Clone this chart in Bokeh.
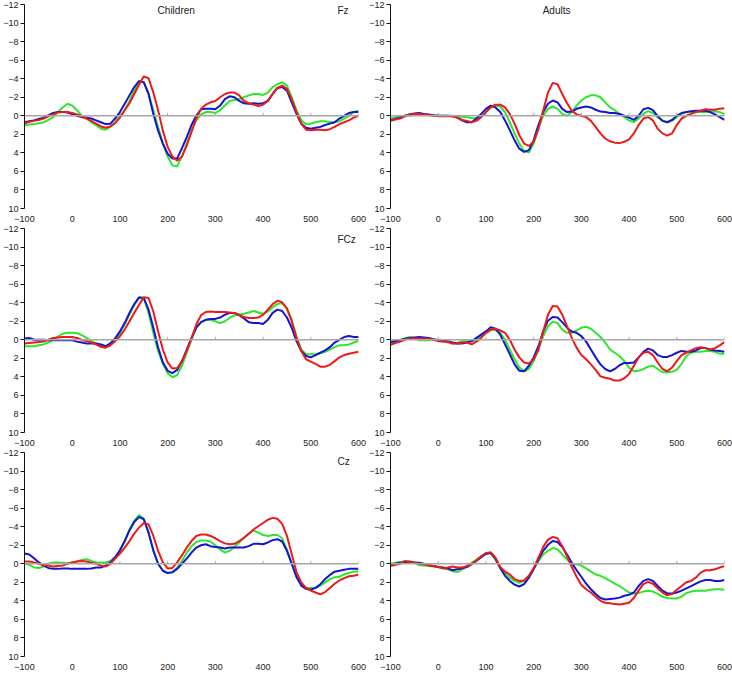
import math
from bokeh.plotting import figure
from bokeh.layouts import gridplot
from bokeh.models import Range1d, FixedTicker, LinearAxis, Label, Span
from bokeh.embed import file_html
from bokeh.resources import INLINE

# ---------------- data ----------------
time_ms = list(range(-100, 601, 10))
x_ticks = [-100, 0, 100, 200, 300, 400, 500, 600]
y_ticks = [-12, -10, -8, -6, -4, -2, 0, 2, 4, 6, 8, 10]

children_fz_green = [1.0, 0.95, 0.9, 0.8, 0.7, 0.45, 0.15, -0.4, -0.9, -1.3, -1.1, -0.6, 0, 0.3, 0.7, 1.0, 1.4, 1.5, 1.2, 0.7,
                     0.1, -0.6, -1.6, -2.7, -3.65, -3.65, -2.4, -0.6, 1.2, 3.0, 4.4, 5.35, 5.45, 4.4, 3.0, 1.6, 0.5, -0.15, -0.4, -0.4,
                     -0.3, -0.6, -1.1, -1.6, -1.7, -1.8, -2.0, -2.2, -2.35, -2.35, -2.25, -2.5, -3.1, -3.4, -3.6, -3.25, -2.0, -0.6, 0.5, 0.9,
                     0.85, 0.7, 0.6, 0.6, 0.7, 0.7, 0.6, 0.3, 0, -0.4, -0.55]
children_fz_blue = [0.7, 0.6, 0.5, 0.35, 0.2, -0.05, -0.3, -0.4, -0.4, -0.35, -0.2, 0, 0.15, 0.2, 0.3, 0.5, 0.7, 0.9, 0.85, 0.3,
                    -0.4, -1.3, -2.2, -3.1, -3.75, -3.6, -2.35, -0.2, 1.6, 3.0, 4.1, 4.6, 4.6, 3.5, 2.3, 1.0, 0, -0.7, -0.75, -0.75,
                    -0.7, -1.1, -1.8, -2.1, -2.0, -1.6, -1.35, -1.3, -1.35, -1.3, -1.35, -1.6, -2.35, -3.0, -3.1, -2.7, -1.45, -0.2, 0.85, 1.3,
                    1.4, 1.3, 1.2, 1.0, 0.85, 0.7, 0.3, 0, -0.3, -0.4, -0.4]
children_fz_red = [0.8, 0.65, 0.55, 0.45, 0.3, 0.05, -0.15, -0.35, -0.4, -0.4, -0.3, -0.15, 0.05, 0.3, 0.55, 0.85, 1.15, 1.3, 1.15, 0.8,
                   0.2, -0.6, -1.35, -2.35, -3.35, -4.25, -4.05, -2.5, -0.6, 1.6, 3.35, 4.4, 4.85, 4.4, 3.2, 1.75, 0.3, -0.75, -1.2, -1.45,
                   -1.6, -2.0, -2.35, -2.5, -2.5, -2.2, -1.6, -1.35, -1.2, -1.05, -1.2, -1.6, -2.35, -3.0, -3.25, -2.9, -1.8, -0.4, 0.85, 1.5,
                   1.55, 1.5, 1.5, 1.55, 1.45, 1.2, 0.9, 0.7, 0.5, 0.2, 0]

adults_fz_green = [0.3, 0.15, 0.05, 0, 0, -0.1, -0.15, -0.1, -0.05, 0, 0, 0, 0, 0, 0.05, 0.1, 0.15, 0.25, 0.3, 0.15,
                   -0.4, -0.9, -1.1, -1.0, -0.4, 0.7, 1.9, 3.0, 3.8, 3.95, 3.0, 1.4, 0, -0.75, -1.0, -0.75, -0.2, 0, -0.4, -1.1,
                   -1.65, -2.0, -2.2, -2.2, -2.0, -1.45, -0.9, -0.6, -0.2, 0.15, 0.5, 0.7, 0.3, -0.2, -0.5, -0.3, 0.15, 0.5, 0.7, 0.55,
                   0.15, -0.2, -0.4, -0.4, -0.4, -0.4, -0.4, -0.45, -0.45, -0.4, -0.2]
adults_fz_blue = [0.5, 0.35, 0.2, 0, -0.15, -0.25, -0.3, -0.2, -0.15, -0.05, 0, 0, 0, 0.05, 0.2, 0.5, 0.7, 0.7, 0.3, -0.2,
                  -0.75, -1.1, -0.9, -0.4, 0.5, 1.55, 2.65, 3.55, 3.9, 3.7, 2.65, 1.0, -0.4, -1.3, -1.65, -1.45, -0.75, -0.4, -0.45, -0.75,
                  -0.9, -1.0, -0.9, -0.65, -0.45, -0.4, -0.3, -0.3, -0.2, 0, 0.2, 0.45, 0, -0.7, -0.85, -0.6, 0.05, 0.55, 0.7, 0.45,
                  0, -0.3, -0.4, -0.5, -0.55, -0.55, -0.55, -0.4, -0.15, 0.15, 0.45]
adults_fz_red = [0.55, 0.4, 0.3, 0.05, -0.15, -0.2, -0.2, -0.15, -0.1, 0, 0.05, 0.05, 0.05, 0.05, 0.2, 0.45, 0.55, 0.7, 0.55, 0.15,
                 -0.4, -0.9, -1.2, -1.2, -0.9, -0.2, 0.85, 2.1, 3.0, 3.25, 2.8, 1.4, -0.55, -2.5, -3.55, -3.4, -2.35, -1.35, -0.55, -0.15,
                 0, 0.15, 0.55, 1.2, 1.9, 2.45, 2.75, 2.9, 2.95, 2.8, 2.55, 1.9, 1.0, 0.3, 0.15, 0.5, 1.4, 1.9, 2.15, 1.9,
                 1.0, 0.3, 0, -0.2, -0.4, -0.55, -0.7, -0.65, -0.65, -0.75, -0.8]

children_fcz_green = [0.7, 0.7, 0.7, 0.6, 0.5, 0.3, 0, -0.35, -0.65, -0.75, -0.75, -0.7, -0.5, -0.2, 0.15, 0.4, 0.55, 0.7, 0.4, 0,
                      -0.75, -1.7, -2.7, -3.75, -4.6, -4.5, -2.9, -0.75, 1.2, 2.6, 3.6, 4.05, 3.8, 2.8, 1.4, 0, -1.3, -1.9, -2.15, -2.15,
                      -2.0, -1.8, -2.0, -2.35, -2.65, -2.7, -2.8, -2.95, -3.1, -2.95, -2.8, -3.05, -3.5, -3.85, -3.95, -3.4, -2.15, -0.4, 1.05, 1.55,
                      1.55, 1.55, 1.45, 1.3, 1.05, 0.8, 0.6, 0.6, 0.5, 0.3, 0.1]
children_fcz_blue = [-0.15, -0.2, 0, 0, 0, 0.05, 0.05, 0.05, 0.05, 0.05, 0.05, 0.2, 0.3, 0.4, 0.4, 0.4, 0.5, 0.7, 0.4, -0.15,
                     -0.9, -1.8, -2.9, -3.85, -4.55, -4.5, -3.25, -1.3, 0.85, 2.45, 3.35, 3.6, 3.25, 2.3, 1.05, -0.2, -1.3, -1.9, -2.15, -2.25,
                     -2.25, -2.4, -2.7, -2.9, -2.9, -2.65, -2.3, -1.9, -1.8, -1.8, -1.7, -2.15, -2.9, -3.25, -3.1, -2.4, -1.3, 0.15, 1.2, 1.75,
                     1.9, 1.65, 1.4, 1.15, 0.8, 0.3, 0, -0.3, -0.4, -0.3, -0.3]
children_fcz_red = [0.4, 0.35, 0.3, 0.25, 0.2, 0, -0.2, -0.25, -0.3, -0.3, -0.3, -0.2, 0, 0.15, 0.3, 0.5, 0.75, 0.85, 0.6, 0.15,
                    -0.4, -1.1, -2.0, -2.9, -3.75, -4.6, -4.5, -3.05, -0.9, 1.05, 2.45, 3.1, 3.05, 2.35, 1.2, -0.15, -1.65, -2.65, -3.0, -3.05,
                    -3.0, -3.0, -3.0, -2.95, -2.9, -2.7, -2.45, -2.35, -2.35, -2.4, -2.7, -3.25, -3.85, -4.2, -4.05, -3.35, -2.0, -0.2, 1.2, 2.1,
                    2.35, 2.6, 2.9, 2.9, 2.7, 2.3, 1.9, 1.65, 1.5, 1.4, 1.3]

adults_fcz_green = [0.05, 0.05, 0, -0.15, -0.3, -0.2, 0.05, 0.05, 0.05, 0, 0, 0.05, 0.3, 0.4, 0.35, 0.15, 0.15, 0.2, 0, -0.4,
                    -0.75, -1.05, -1.05, -0.75, 0, 1.05, 2.1, 3.0, 3.4, 3.15, 2.3, 1.05, -0.4, -1.45, -1.95, -1.8, -1.1, -0.75, -0.75, -1.0,
                    -1.3, -1.4, -1.2, -0.75, -0.3, 0.3, 1.05, 1.4, 1.75, 2.3, 3.0, 3.4, 3.35, 3.15, 2.9, 2.8, 3.15, 3.5, 3.5, 3.45,
                    3.25, 2.6, 1.75, 1.4, 1.3, 1.3, 1.2, 1.2, 1.3, 1.5, 1.5]
adults_fcz_blue = [0.3, 0.15, 0.05, -0.1, -0.2, -0.25, -0.3, -0.25, -0.2, -0.05, 0.05, 0.1, 0.15, 0.3, 0.4, 0.4, 0.3, 0.15, -0.2, -0.55,
                   -0.9, -1.35, -1.2, -0.55, 0.5, 1.55, 2.65, 3.35, 3.4, 2.8, 1.9, 0.7, -0.9, -2.05, -2.45, -2.4, -1.9, -1.3, -0.9, -0.75,
                   -0.4, 0.2, 1.05, 1.9, 2.65, 3.15, 3.4, 3.15, 2.75, 2.5, 2.5, 2.45, 1.9, 1.3, 0.95, 1.15, 1.65, 1.85, 1.85, 1.65,
                   1.4, 1.2, 1.3, 1.3, 1.15, 0.9, 0.9, 1.05, 1.15, 1.2, 1.3]
adults_fcz_red = [0.55, 0.35, 0.2, 0, -0.15, -0.15, -0.15, -0.1, -0.1, 0, 0.15, 0.2, 0.2, 0.4, 0.4, 0.3, 0.3, 0.5, 0.2, -0.2,
                  -0.75, -1.1, -1.2, -1.0, -0.75, 0, 1.05, 1.9, 2.45, 2.55, 2.1, 1.05, -0.9, -2.7, -3.65, -3.6, -2.7, -1.45, -0.2, 0.85,
                  1.65, 2.1, 2.65, 3.25, 3.95, 4.1, 4.2, 4.4, 4.4, 4.15, 3.7, 2.8, 1.9, 1.4, 1.3, 1.65, 2.45, 3.15, 3.4, 3.0,
                  2.3, 1.65, 1.4, 1.15, 0.9, 0.8, 0.9, 1.05, 0.9, 0.6, 0.25]

children_cz_green = [0, 0.1, 0.4, 0.45, 0.3, 0, -0.15, -0.15, -0.1, -0.05, -0.1, -0.25, -0.4, -0.5, -0.3, -0.15, -0.15, -0.15, -0.3, -0.7,
                     -1.4, -2.45, -3.7, -4.65, -5.25, -4.85, -3.35, -1.4, 0, 0.75, 1.0, 0.95, 0.4, -0.3, -1.2, -1.9, -2.35, -2.5, -2.5, -2.4,
                     -2.0, -1.55, -1.2, -1.4, -1.8, -2.3, -2.8, -3.25, -3.6, -3.35, -3.1, -3.0, -3.1, -3.1, -2.75, -1.55, 0, 1.45, 2.25, 2.6,
                     2.6, 2.6, 2.35, 2.0, 1.65, 1.45, 1.4, 1.15, 1.0, 0.85, 0.8]
children_cz_blue = [-1.1, -1.0, -0.6, -0.15, 0.2, 0.45, 0.55, 0.55, 0.5, 0.5, 0.55, 0.55, 0.55, 0.55, 0.5, 0.4, 0.4, 0.2, -0.15, -0.7,
                    -1.45, -2.45, -3.6, -4.5, -5.05, -4.8, -3.35, -1.45, 0, 0.75, 1.0, 0.9, 0.55, 0, -0.55, -1.2, -1.75, -2.0, -2.1, -1.9,
                    -1.8, -1.75, -1.65, -1.75, -1.75, -1.75, -1.75, -1.9, -2.15, -2.15, -2.1, -2.3, -2.55, -2.65, -2.4, -1.4, 0, 1.4, 2.35, 2.7,
                    2.8, 2.6, 2.2, 1.65, 1.2, 0.85, 0.75, 0.65, 0.55, 0.55, 0.55]
children_cz_red = [-0.25, -0.25, -0.15, 0, 0.15, 0.2, 0.3, 0.25, 0.2, 0, -0.15, -0.25, -0.3, -0.25, -0.1, 0, 0.2, 0.3, 0, -0.55,
                   -1.1, -1.75, -2.45, -3.25, -3.9, -4.4, -4.25, -3.0, -1.4, -0.15, 0.5, 0.45, -0.15, -0.9, -1.75, -2.45, -3.0, -3.15, -3.15, -3.0,
                   -2.75, -2.45, -2.2, -2.1, -2.15, -2.45, -2.8, -3.25, -3.7, -4.05, -4.4, -4.75, -4.95, -4.85, -4.3, -3.0, -1.05, 0.9, 2.0, 2.6,
                   2.9, 3.1, 3.3, 3.05, 2.6, 2.15, 1.8, 1.55, 1.35, 1.3, 1.15]

adults_cz_green = [0, -0.1, -0.2, -0.25, -0.3, -0.1, 0.15, 0.2, 0.25, 0.3, 0.35, 0.5, 0.6, 0.8, 0.9, 0.6, 0.25, -0.1, -0.45, -0.8,
                   -1.15, -1.15, -0.45, 0.45, 1.0, 1.5, 1.85, 2.05, 1.85, 1.3, 0.5, -0.3, -1.0, -1.4, -1.7, -1.55, -1.0, -0.45, 0, 0.05,
                   0.2, 0.5, 0.85, 1.15, 1.3, 1.55, 1.85, 2.15, 2.4, 2.75, 3.1, 3.2, 3.15, 3.0, 2.9, 3.0, 3.25, 3.55, 3.7, 3.75,
                   3.75, 3.55, 3.15, 3.0, 2.9, 2.9, 2.9, 2.8, 2.75, 2.75, 2.8]
adults_cz_blue = [0.15, 0, -0.1, -0.15, -0.2, -0.15, -0.1, 0, 0.15, 0.25, 0.35, 0.4, 0.5, 0.7, 0.6, 0.5, 0.35, 0.05, -0.3, -0.7,
                  -1.05, -1.15, -0.55, 0.45, 1.3, 1.85, 2.25, 2.45, 2.2, 1.5, 0.6, -0.45, -1.4, -2.05, -2.45, -2.35, -1.8, -1.0, -0.1, 0.7,
                  1.4, 2.15, 2.75, 3.25, 3.7, 3.85, 3.8, 3.75, 3.65, 3.45, 3.35, 3.1, 2.4, 1.85, 1.65, 1.85, 2.4, 2.9, 3.2, 3.2,
                  3.1, 2.9, 2.65, 2.4, 2.15, 1.9, 1.75, 1.75, 1.85, 1.85, 1.75]
adults_cz_red = [0.25, 0.1, 0, -0.3, -0.2, -0.1, 0, 0.05, 0.15, 0.25, 0.35, 0.5, 0.4, 0.3, 0.4, 0.4, 0.25, 0, -0.35, -0.8,
                 -1.15, -1.25, -0.65, 0.35, 0.85, 1.15, 1.65, 1.85, 1.8, 1.3, 0.5, -0.65, -1.8, -2.6, -2.9, -2.75, -1.9, -0.8, 0.35, 1.4,
                 2.3, 2.75, 3.1, 3.55, 4.0, 4.2, 4.25, 4.35, 4.4, 4.3, 4.2, 3.7, 2.9, 2.2, 1.95, 2.15, 2.65, 3.1, 3.4, 3.25,
                 2.8, 2.4, 2.0, 1.85, 1.5, 0.95, 0.7, 0.7, 0.6, 0.4, 0.25]

group_titles = ["Children", "Adults"]
electrodes = ["Fz", "FCz", "Cz"]

# ---------------- styles ----------------
GREEN = "#2de62d"
BLUE = "#1414d2"
RED = "#ec1a1a"
TEXT = "#222222"
ZERO = "#a8a8a8"
FONT = "Liberation Sans"

FRAME_W = 334
FRAME_H = 204

series_grid = [
    [(children_fz_green, children_fz_blue, children_fz_red), (adults_fz_green, adults_fz_blue, adults_fz_red)],
    [(children_fcz_green, children_fcz_blue, children_fcz_red), (adults_fcz_green, adults_fcz_blue, adults_fcz_red)],
    [(children_cz_green, children_cz_blue, children_cz_red), (adults_cz_green, adults_cz_blue, adults_cz_red)],
]
title_x = [218, 248]
electrode_y = [-11.4, -10.8, -11.0]


def make_panel(green, blue, red, title=None, tx=230, electrode=None, elec_y=-11.2):
    p = figure(x_range=Range1d(-100, 600), y_range=Range1d(10, -12),
               x_axis_location=None, y_axis_location=None,
               frame_width=FRAME_W, frame_height=FRAME_H,
               min_border_left=18, min_border_right=8, min_border_top=4, min_border_bottom=13,
               output_backend="svg", toolbar_location=None)
    p.outline_line_color = None
    p.grid.visible = False
    p.xgrid.visible = False
    p.ygrid.visible = False
    p.background_fill_color = "white"
    p.border_fill_color = "white"

    # zero line with small upward ticks
    p.add_layout(Span(location=0, dimension="width", line_color=ZERO, line_width=1.5))
    p.ray(x=x_ticks[1:], y=[0] * (len(x_ticks) - 1), length=3, length_units="screen",
          angle=math.pi / 2, line_color=ZERO, line_width=1)

    label_axis = LinearAxis(ticker=FixedTicker(ticks=x_ticks),
                            axis_line_color=None, major_tick_line_color=None, minor_tick_line_color=None,
                            major_label_standoff=1, major_label_text_font_size="9px",
                            major_label_text_font=FONT, major_label_text_color=TEXT)
    p.add_layout(label_axis, "below")

    yaxis = LinearAxis(ticker=FixedTicker(ticks=y_ticks),
                       axis_line_color="#111111", axis_line_width=1,
                       major_tick_out=4, major_tick_in=0, major_tick_line_color="#111111",
                       minor_tick_line_color=None,
                       major_label_standoff=2, major_label_text_font_size="9px",
                       major_label_text_font=FONT, major_label_text_color=TEXT)
    p.add_layout(yaxis, "left")

    p.line(time_ms, green, line_color=GREEN, line_width=2)
    p.line(time_ms, blue, line_color=BLUE, line_width=2)
    p.line(time_ms, red, line_color=RED, line_width=2)

    if title:
        p.add_layout(Label(x=tx, y=-11.35, text=title, text_align="center", text_baseline="middle",
                           text_font=FONT, text_font_size="10px", text_color=TEXT))
    if electrode:
        p.add_layout(Label(x=556, y=elec_y, text=electrode, text_align="left", text_baseline="middle",
                           text_font=FONT, text_font_size="10px", text_color=TEXT))
    return p


rows = []
for r in range(3):
    row_figs = []
    for c in range(2):
        g, b, rd = series_grid[r][c]
        title = group_titles[c] if r == 0 else None
        elec = electrodes[r] if c == 0 else None
        row_figs.append(make_panel(g, b, rd, title=title, tx=title_x[c], electrode=elec, elec_y=electrode_y[r]))
    rows.append(row_figs)

layout = gridplot(rows, toolbar_location=None)

open("out.html", "w").write(file_html(layout, INLINE))
